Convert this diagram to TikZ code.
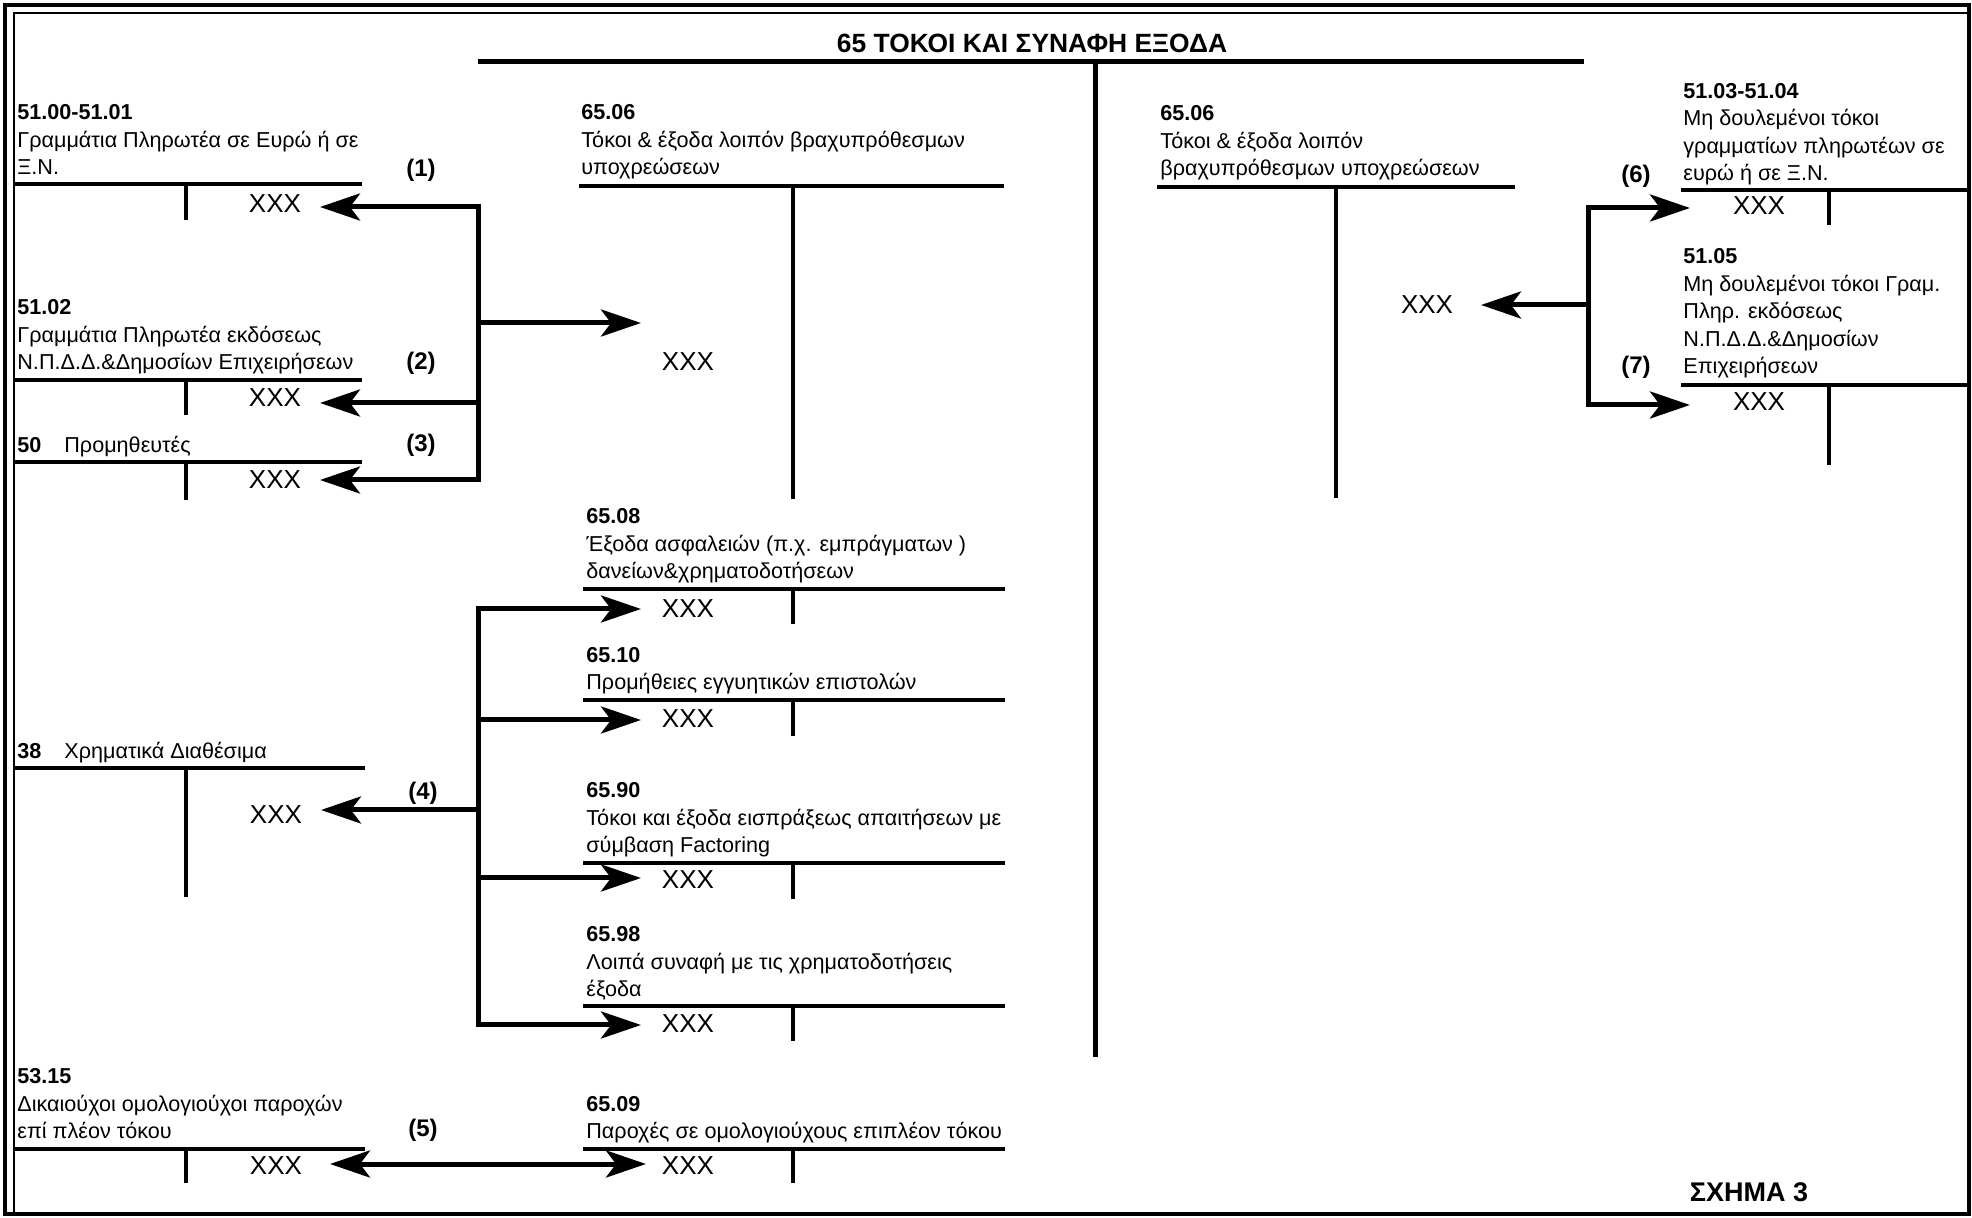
\documentclass[tikz,border=0pt]{standalone}
\usepackage{fontspec}
\setmainfont{Liberation Sans}
\usetikzlibrary{arrows.meta}
\begin{document}
\begin{tikzpicture}[x=0.5pt,y=-0.5pt,
  rule/.style={line width=2.3pt},
  tv/.style={line width=2pt},
  tipx/.tip={Stealth[length=20pt,width=13.5pt,inset=5pt]},
  arr/.style={line width=2.5pt,-tipx},
  dbl/.style={line width=2.5pt,tipx-tipx},
  bus/.style={line width=2.5pt,line cap=rect},
  lbl/.style={anchor=south west,inner sep=0pt,text depth=0pt,align=left,font=\fontsize{10.8}{13.7}\selectfont},
  xxx/.style={inner sep=0pt,font=\fontsize{13}{15}\selectfont},
  num/.style={inner sep=0pt,font=\bfseries\fontsize{12}{14}\selectfont},
]
\useasboundingbox (0,0) rectangle (1972,1218);
% frame
\draw[line width=2pt] (5,5) rectangle (1969,1214);
\draw[line width=1pt] (14,1214) -- (14,13) -- (1969,13);
% title
\node[anchor=base,inner sep=0pt,font=\bfseries\fontsize{13.2}{15}\selectfont] (title) at (1032,53) {65 ΤΟΚΟΙ ΚΑΙ ΣΥΝΑΦΗ ΕΞΟΔΑ};
\draw[line width=2.5pt] (478,62) -- (1584,62);
\draw[line width=2.5pt] (1095,62) -- (1095,1057);

% ---- left accounts
\node[lbl] (L1) at (17,175) {\textbf{51.00-51.01}\\Γραμμάτια Πληρωτέα σε Ευρώ ή σε\\Ξ.Ν.};
\draw[rule] (14,184) -- (362,184); \draw[tv] (186,184) -- (186,220);
\node[xxx] (xL1) at (275,204) {XXX};

\node[lbl] (L2) at (17,370) {\textbf{51.02}\\Γραμμάτια Πληρωτέα εκδόσεως\\Ν.Π.Δ.Δ.\&Δημοσίων Επιχειρήσεων};
\draw[rule] (14,380) -- (362,380); \draw[tv] (186,380) -- (186,415);
\node[xxx] (xL2) at (275,398) {XXX};

\node[lbl] (L3) at (17,453) {\makebox[23.5pt][l]{\textbf{50}}Προμηθευτές};
\draw[rule] (14,462) -- (362,462); \draw[tv] (186,462) -- (186,500);
\node[xxx] (xL3) at (275,480) {XXX};

\node[lbl] (L4) at (17,759) {\makebox[23.5pt][l]{\textbf{38}}Χρηματικά Διαθέσιμα};
\draw[rule] (14,768) -- (365,768); \draw[tv] (186,768) -- (186,897);
\node[xxx] (xL4) at (276,815) {XXX};

\node[lbl] (L5) at (17,1139) {\textbf{53.15}\\Δικαιούχοι ομολογιούχοι παροχών\\επί πλέον τόκου};
\draw[rule] (14,1149) -- (365,1149); \draw[tv] (186,1149) -- (186,1183);
\node[xxx] (xL5) at (276,1166) {XXX};

% ---- middle accounts
\node[lbl] (M1) at (581,175) {\textbf{65.06}\\Τόκοι \& έξοδα λοιπόν βραχυπρόθεσμων\\υποχρεώσεων};
\draw[rule] (579,186) -- (1004,186); \draw[tv] (793,186) -- (793,499);
\node[xxx] (xM1) at (688,362) {XXX};

\node[lbl] (M2) at (586,579) {\textbf{65.08}\\Έξοδα ασφαλειών (π.χ. εμπράγματων )\\δανείων\&χρηματοδοτήσεων};
\draw[rule] (583,589) -- (1005,589); \draw[tv] (793,589) -- (793,624);
\node[xxx] (xM2) at (688,609) {XXX};

\node[lbl] (M3) at (586,690) {\textbf{65.10}\\Προμήθειες εγγυητικών επιστολών};
\draw[rule] (583,700) -- (1005,700); \draw[tv] (793,700) -- (793,736);
\node[xxx] (xM3) at (688,719) {XXX};

\node[lbl] (M4) at (586,853) {\textbf{65.90}\\Τόκοι και έξοδα εισπράξεως απαιτήσεων με\\σύμβαση Factoring};
\draw[rule] (583,863) -- (1005,863); \draw[tv] (793,863) -- (793,899);
\node[xxx] (xM4) at (688,880) {XXX};

\node[lbl] (M5) at (586,997) {\textbf{65.98}\\Λοιπά συναφή με τις χρηματοδοτήσεις\\έξοδα};
\draw[rule] (583,1006) -- (1005,1006); \draw[tv] (793,1006) -- (793,1041);
\node[xxx] (xM5) at (688,1024) {XXX};

\node[lbl] (M6) at (586,1139) {\textbf{65.09}\\Παροχές σε ομολογιούχους επιπλέον τόκου};
\draw[rule] (583,1149) -- (1005,1149); \draw[tv] (793,1149) -- (793,1183);
\node[xxx] (xM6) at (688,1166) {XXX};

% ---- right accounts
\node[lbl] (R0) at (1160,176) {\textbf{65.06}\\Τόκοι \& έξοδα λοιπόν\\βραχυπρόθεσμων υποχρεώσεων};
\draw[rule] (1157,187) -- (1515,187); \draw[tv] (1336,187) -- (1336,498);
\node[xxx] (xR0) at (1427,305) {XXX};

\node[lbl] (R1) at (1683,181) {\textbf{51.03-51.04}\\Μη δουλεμένοι τόκοι\\γραμματίων πληρωτέων σε\\ευρώ ή σε Ξ.Ν.};
\draw[rule] (1681,190) -- (1968,190); \draw[tv] (1829,190) -- (1829,225);
\node[xxx] (xR1) at (1759,206) {XXX};

\node[lbl] (R2) at (1683,374) {\textbf{51.05}\\Μη δουλεμένοι τόκοι Γραμ.\\Πληρ. εκδόσεως\\Ν.Π.Δ.Δ.\&Δημοσίων\\Επιχειρήσεων};
\draw[rule] (1681,385) -- (1968,385); \draw[tv] (1829,385) -- (1829,465);
\node[xxx] (xR2) at (1759,402) {XXX};

% ---- numbers
\node[num] (n1) at (421,170) {(1)};
\node[num] (n2) at (421,363) {(2)};
\node[num] (n3) at (421,445) {(3)};
\node[num] (n4) at (423,793) {(4)};
\node[num] (n5) at (423,1130) {(5)};
\node[num] (n6) at (1636,176) {(6)};
\node[num] (n7) at (1636,367) {(7)};

% ---- connectors, upper left
\coordinate (bA1) at (478,207); \coordinate (bA2) at (478,323);
\coordinate (bA3) at (478,403); \coordinate (bA4) at (478,480);
\coordinate (tA1) at (320,207); \coordinate (tA2) at (641,323);
\coordinate (tA3) at (320,403); \coordinate (tA4) at (320,480);
\draw[bus] (bA1) -- (bA4);
\draw[arr] (bA1) -- (tA1);
\draw[arr] (bA2) -- (tA2);
\draw[arr] (bA3) -- (tA3);
\draw[arr] (bA4) -- (tA4);

% ---- connectors, lower left
\coordinate (bB1) at (478,609); \coordinate (bB2) at (478,720);
\coordinate (bB3) at (478,810); \coordinate (bB4) at (478,878);
\coordinate (bB5) at (478,1025);
\coordinate (tB1) at (641,609); \coordinate (tB2) at (641,720);
\coordinate (tB3) at (321,810); \coordinate (tB4) at (641,878);
\coordinate (tB5) at (641,1025);
\draw[bus] (bB1) -- (bB5);
\draw[arr] (bB1) -- (tB1);
\draw[arr] (bB2) -- (tB2);
\draw[arr] (bB3) -- (tB3);
\draw[arr] (bB4) -- (tB4);
\draw[arr] (bB5) -- (tB5);

% ---- double arrow (5)
\coordinate (t5l) at (330,1164); \coordinate (t5r) at (646,1164);
\draw[dbl] (t5l) -- (t5r);

% ---- connectors, right
\coordinate (bC1) at (1588,208); \coordinate (bC2) at (1588,305);
\coordinate (bC3) at (1588,405);
\coordinate (tC1) at (1690,208); \coordinate (tC2) at (1481,305);
\coordinate (tC3) at (1690,405);
\draw[bus] (bC1) -- (bC3);
\draw[arr] (bC1) -- (tC1);
\draw[arr] (bC2) -- (tC2);
\draw[arr] (bC3) -- (tC3);

% ---- figure label
\node[anchor=base,inner sep=0pt,font=\bfseries\fontsize{13.5}{16}\selectfont] (fig) at (1749,1201) {ΣΧΗΜΑ 3};
\end{tikzpicture}
\end{document}
